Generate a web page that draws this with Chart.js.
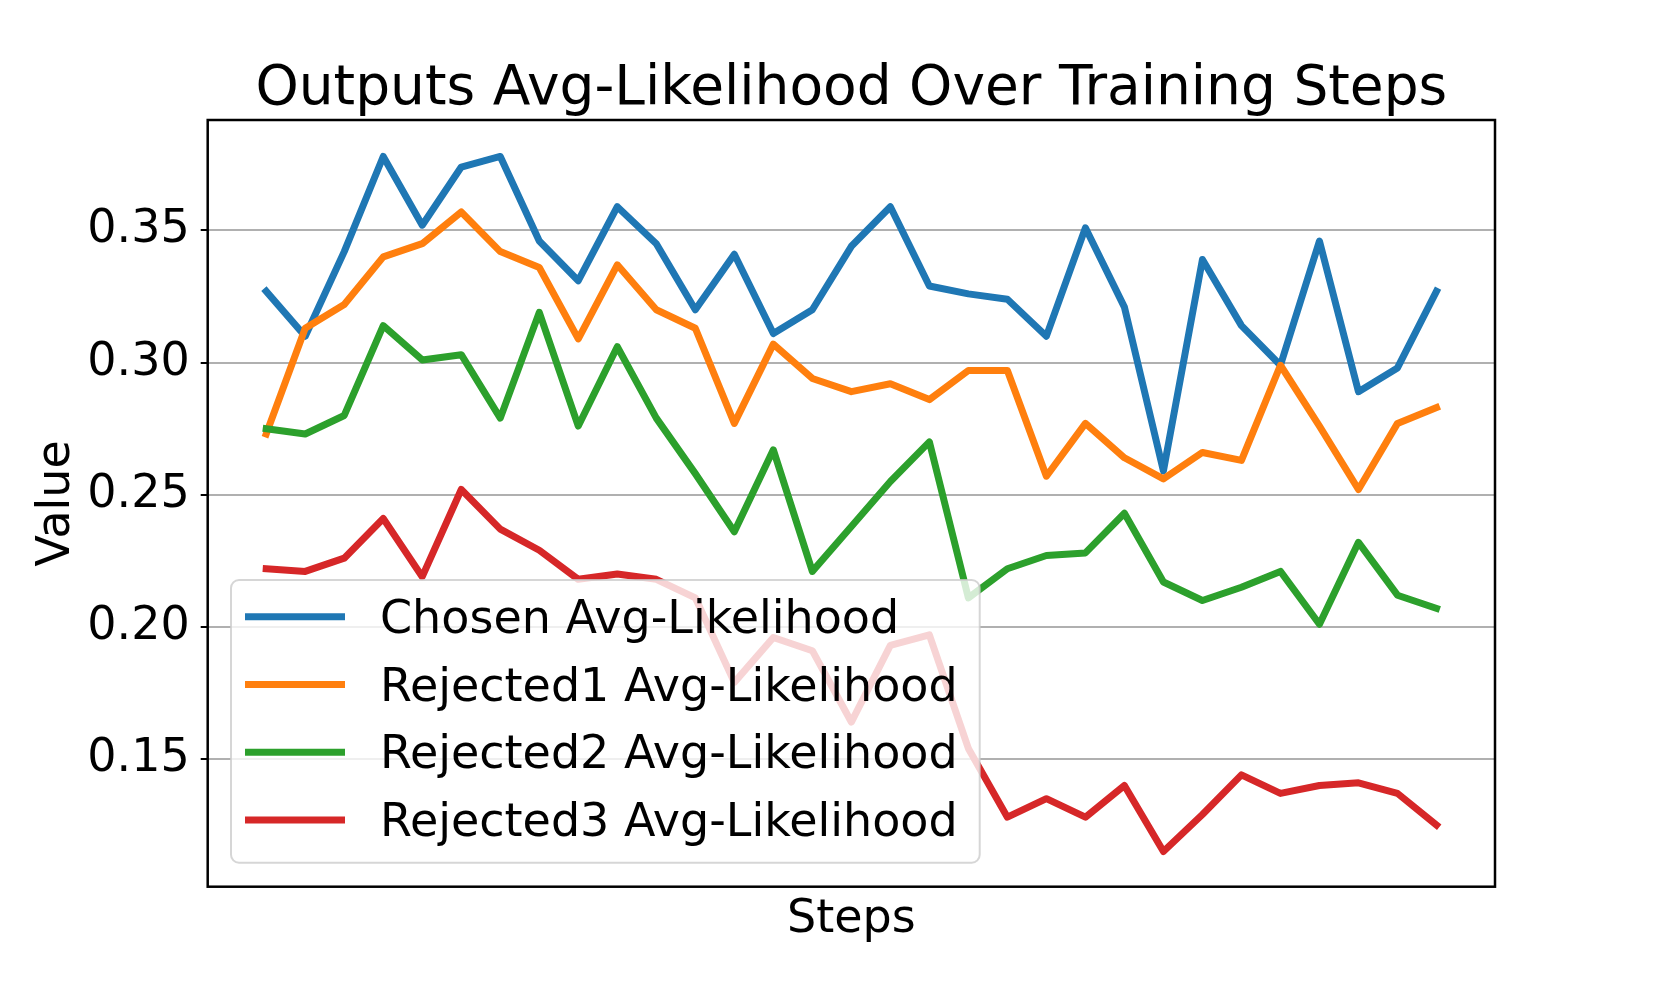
<!DOCTYPE html>
<html>
<head>
<meta charset="utf-8">
<script src="https://cdn.jsdelivr.net/npm/chart.js@4.4.1/dist/chart.umd.min.js"></script>
<style>
  html, body { margin: 0; padding: 0; background: #fff; overflow: hidden; }
  canvas { display: block; }
</style>
</head>
<body>
<canvas id="myChart" width="1661" height="997"></canvas>
<script>
const steps = [0, 1, 2, 3, 4, 5, 6, 7, 8, 9, 10, 11, 12, 13, 14, 15, 16, 17, 18, 19, 20, 21, 22, 23, 24, 25, 26, 27, 28, 29, 30];
const chosenValues = [0.327, 0.310, 0.342, 0.378, 0.352, 0.374, 0.378, 0.346, 0.331, 0.359, 0.345, 0.320, 0.341, 0.311, 0.320, 0.344, 0.359, 0.329, 0.326, 0.324, 0.310, 0.351, 0.321, 0.259, 0.339, 0.314, 0.299, 0.346, 0.289, 0.298, 0.327];
const rejected1Values = [0.273, 0.313, 0.322, 0.340, 0.345, 0.357, 0.342, 0.336, 0.309, 0.337, 0.320, 0.313, 0.277, 0.307, 0.294, 0.289, 0.292, 0.286, 0.297, 0.297, 0.257, 0.277, 0.264, 0.256, 0.266, 0.263, 0.299, 0.276, 0.252, 0.277, 0.283];
const rejected2Values = [0.275, 0.273, 0.280, 0.314, 0.301, 0.303, 0.279, 0.319, 0.276, 0.306, 0.279, 0.258, 0.236, 0.267, 0.221, 0.238, 0.255, 0.270, 0.211, 0.222, 0.227, 0.228, 0.243, 0.217, 0.210, 0.215, 0.221, 0.201, 0.232, 0.212, 0.207];
const rejected3Values = [0.222, 0.221, 0.226, 0.241, 0.219, 0.252, 0.237, 0.229, 0.218, 0.220, 0.218, 0.211, 0.179, 0.196, 0.191, 0.164, 0.193, 0.197, 0.154, 0.128, 0.135, 0.128, 0.140, 0.115, 0.129, 0.144, 0.137, 0.140, 0.141, 0.137, 0.125];
const seriesNames = ['Chosen Avg-Likelihood', 'Rejected1 Avg-Likelihood', 'Rejected2 Avg-Likelihood', 'Rejected3 Avg-Likelihood'];
const seriesColors = ['#1f77b4', '#ff7f0e', '#2ca02c', '#d62728'];
const yTickValues = [0.15, 0.20, 0.25, 0.30, 0.35];

Chart.defaults.font.family = 'DejaVu Sans';
Chart.defaults.color = '#000';

function toPoints(values) {
    return steps.map((s, i) => ({x: s, y: values[i]}));
}

const allSeries = [chosenValues, rejected1Values, rejected2Values, rejected3Values];
const datasets = allSeries.map((values, i) => ({
    label: seriesNames[i],
    data: toPoints(values),
    borderColor: seriesColors[i],
    backgroundColor: seriesColors[i],
    borderWidth: 7,
    pointRadius: 0,
    tension: 0,
    borderJoinStyle: 'round',
    borderCapStyle: 'square',
    order: allSeries.length - i
}));

// black box round the plot, like matplotlib spines
const frame = {
    id: 'frame',
    afterDatasetsDraw(chart) {
        const {ctx, chartArea: a} = chart;
        ctx.save();
        ctx.strokeStyle = '#000';
        ctx.lineWidth = 2.5;
        ctx.strokeRect(a.left, a.top, a.right - a.left, a.bottom - a.top);
        ctx.restore();
    }
};

// legend inside the plot, lower left, semi transparent
const innerLegend = {
    id: 'innerLegend',
    afterDraw(chart) {
        const {ctx, chartArea: a} = chart;
        const sets = chart.data.datasets;
        ctx.save();
        ctx.font = '46px "DejaVu Sans"';
        let maxW = 0;
        sets.forEach(d => { maxW = Math.max(maxW, ctx.measureText(d.label).width); });
        const left = a.left + 23.3;
        const height = 282.7;
        const top = a.bottom - 24 - height;
        const textX = left + 149;
        const width = textX - left + maxW + 22;
        ctx.beginPath();
        ctx.roundRect(left, top, width, height, 8);
        ctx.fillStyle = 'rgba(255,255,255,0.8)';
        ctx.fill();
        ctx.strokeStyle = 'rgba(204,204,204,0.8)';
        ctx.lineWidth = 2;
        ctx.stroke();
        sets.forEach((d, i) => {
            const cy = top + 36.7 + i * 67.8;
            ctx.beginPath();
            ctx.moveTo(left + 14, cy);
            ctx.lineTo(left + 114, cy);
            ctx.strokeStyle = d.borderColor;
            ctx.lineWidth = 7;
            ctx.lineCap = 'butt';
            ctx.stroke();
            ctx.fillStyle = '#000';
            ctx.textBaseline = 'alphabetic';
            ctx.textAlign = 'left';
            ctx.fillText(d.label, textX, cy + 16);
        });
        ctx.restore();
    }
};

const ctx = document.getElementById('myChart').getContext('2d');
let myChart = new Chart(ctx, {
    type: 'line',
    data: {
        datasets: datasets
    },
    options: {
        responsive: false,
        animation: false,
        layout: {
            padding: {left: 0, right: 166, top: 0, bottom: 49.7}
        },
        plugins: {
            legend: {display: false},
            tooltip: {enabled: false},
            title: {
                display: true,
                text: 'Outputs Avg-Likelihood Over Training Steps',
                fullSize: false,
                color: '#000',
                font: {size: 55, weight: 'normal', lineHeight: 1},
                padding: {top: 62.3, bottom: 2.7}
            }
        },
        scales: {
            x: {
                type: 'linear',
                min: -1.5,
                max: 31.5,
                grid: {display: false, drawTicks: false},
                border: {display: false},
                ticks: {display: false},
                title: {
                    display: true,
                    text: 'Steps',
                    color: '#000',
                    font: {size: 46, lineHeight: 1.2},
                    padding: {top: 5.4, bottom: 0}
                }
            },
            y: {
                min: 0.1017,
                max: 0.3918,
                afterBuildTicks: scale => {
                    scale.ticks = yTickValues.map(v => ({value: v}));
                },
                afterFit: scale => {
                    scale.width = 207.7;
                },
                border: {display: false},
                grid: {
                    color: '#b0b0b0',
                    lineWidth: 2,
                    drawTicks: true,
                    tickLength: 7,
                    tickColor: '#000',
                    tickWidth: 2
                },
                ticks: {
                    color: '#000',
                    padding: 11,
                    font: {size: 46},
                    callback: v => v.toFixed(2)
                },
                title: {
                    display: true,
                    text: 'Value',
                    color: '#000',
                    font: {size: 46, lineHeight: 1.2},
                    padding: {top: 29, bottom: 0}
                }
            }
        }
    },
    plugins: [frame, innerLegend]
});
</script>
</body>
</html>
